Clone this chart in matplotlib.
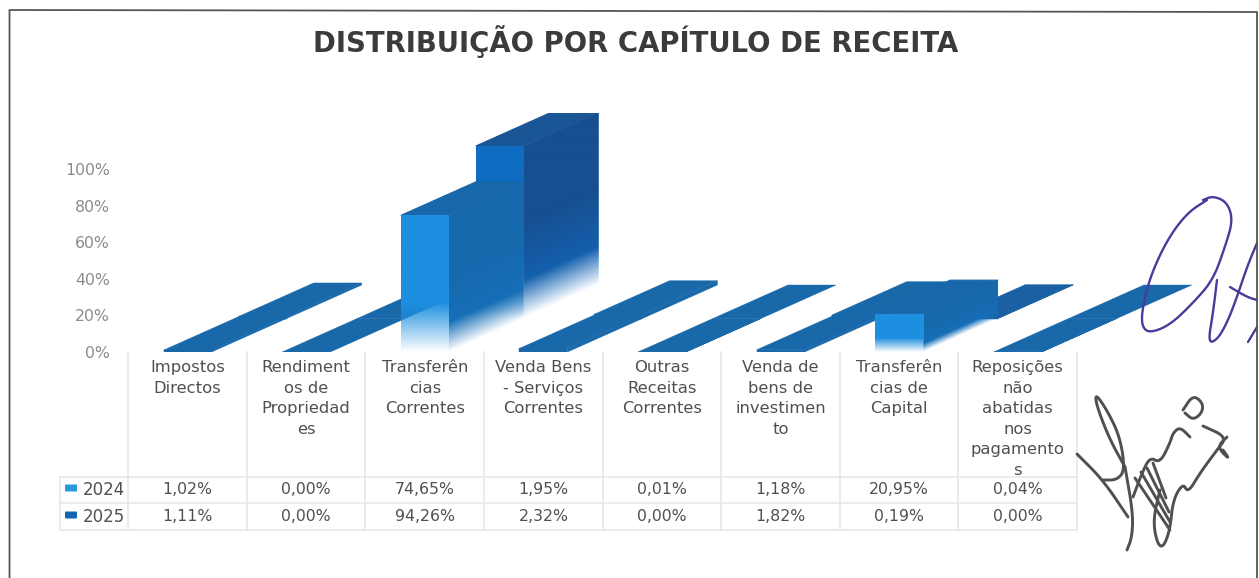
import numpy as np
import matplotlib
matplotlib.use('Agg')
import matplotlib.pyplot as plt
from matplotlib.colors import to_rgb
from matplotlib.patches import Polygon, FancyBboxPatch

plt.rcParams['font.family'] = ['DejaVu Sans']

title = 'DISTRIBUIÇÃO POR CAPÍTULO DE RECEITA'
categories = [
    'Impostos\nDirectos',
    'Rendiment\nos de\nPropriedad\nes',
    'Transferên\ncias\nCorrentes',
    'Venda Bens\n- Serviços\nCorrentes',
    'Outras\nReceitas\nCorrentes',
    'Venda de\nbens de\ninvestimen\nto',
    'Transferên\ncias de\nCapital',
    'Reposições\nnão\nabatidas\nnos\npagamento\ns',
]
series_names = ['2024', '2025']
values_2024 = [1.02, 0.00, 74.65, 1.95, 0.01, 1.18, 20.95, 0.04]
values_2025 = [1.11, 0.00, 94.26, 2.32, 0.00, 1.82, 0.19, 0.00]
yticks = [0, 20, 40, 60, 80, 100]

# scan of two hand signatures, in pixels of the page
sig_blue = [
    [(1207, 200), (1187, 213), (1167, 240), (1150, 277), (1142, 310), (1142, 327), (1150, 333), (1170, 325),
     (1193, 303), (1213, 280), (1225, 247), (1233, 220), (1227, 202), (1213, 196), (1203, 200)],
    [(1217, 280), (1213, 313), (1208, 343), (1217, 340), (1227, 323), (1237, 297), (1247, 267), (1257, 243)],
    [(1230, 287), (1247, 297), (1257, 300)],
    [(1248, 342), (1257, 327)],
]
sig_grey = [
    [(1077, 454), (1103, 480), (1128, 517)],
    [(1103, 480), (1117, 480), (1125, 470), (1120, 437), (1107, 410), (1095, 393), (1097, 407), (1110, 440), (1125, 467)],
    [(1125, 467), (1133, 513), (1132, 537), (1127, 550)],
    [(1133, 497), (1142, 473), (1150, 457), (1160, 463), (1170, 443), (1173, 433), (1180, 427), (1190, 437)],
    [(1183, 410), (1193, 395), (1203, 403), (1202, 413), (1193, 420), (1185, 413)],
    [(1135, 478), (1170, 530)],
    [(1141, 472), (1170, 522)],
    [(1147, 468), (1169, 512)],
    [(1153, 463), (1166, 498)],
    [(1160, 490), (1153, 520), (1157, 543), (1163, 548), (1170, 530), (1173, 500), (1183, 483), (1188, 493),
     (1200, 473), (1217, 450), (1227, 437), (1203, 426)],
    [(1227, 437), (1217, 447), (1230, 460), (1223, 450)],
]

W, H = 1259, 578
fig = plt.figure(figsize=(W / 100, H / 100), dpi=100, facecolor='white')

# chart axes: x is the category number, y the percentage
spacing = 118.6
first_center = 187.6
base_px = 352
top_px = 113
px_per_pct = 1.83
left_px = first_center - spacing / 2
ax = fig.add_axes([left_px / W, 1 - base_px / H, (W - left_px) / W, (base_px - top_px) / H])
ax.patch.set_alpha(0)

bar_w = 48 / spacing
depth_x = 75 / spacing
depth_y = 33.5 / px_per_pct

front_colors = ['#1d8fe0', '#0f6cc2']
side_colors = ['#1769ad', '#174f90']
side_low = ['#1672bd', '#1269bd']
top_colors = ['#1767aa', '#1a5596']
floor_color = '#1968aa'
floor_dark = '#1a60a2'


def solid(points, color, z, lw=0.3):
    ax.add_patch(Polygon(points, closed=True, facecolor=color, edgecolor=color, linewidth=lw, zorder=z))


def fade(points, color_top, color_low, slope, y_start, value, fade_to, z):
    # face that melts into the white floor; height is taken over its skewed lower edge
    pts = np.array(points)
    x_min, x_max = pts[:, 0].min(), pts[:, 0].max()
    y_min, y_max = pts[:, 1].min(), pts[:, 1].max()
    xx, yy = np.meshgrid(np.linspace(x_min, x_max, 150), np.linspace(y_min, y_max, 400))
    height = (yy - (y_start + slope * (xx - x_min))) / value
    alpha = np.clip(height / fade_to, 0, 1)
    mix = np.clip(height / (fade_to * 2.6), 0, 1)[..., None]
    rgb = np.array(to_rgb(color_low)) * (1 - mix) + np.array(to_rgb(color_top)) * mix
    im = ax.imshow(np.dstack([rgb, alpha]), extent=(x_min, x_max, y_min, y_max), origin='lower',
                   aspect='auto', interpolation='bilinear', zorder=z)
    im.set_clip_path(Polygon(points, closed=True, transform=ax.transData))


z = 2
all_values = [values_2024, values_2025]
for i in range(len(categories)):
    other_tall = max(values_2024[i], values_2025[i]) > 5
    for s in (1, 0):
        v = all_values[s][i]
        x0 = i - bar_w / 2 + s * depth_x
        y0 = s * depth_y
        front = [(x0, y0), (x0 + bar_w, y0), (x0 + bar_w, y0 + v), (x0, y0 + v)]
        side = [(x0 + bar_w, y0), (x0 + bar_w + depth_x, y0 + depth_y),
                (x0 + bar_w + depth_x, y0 + depth_y + v), (x0 + bar_w, y0 + v)]
        top = [(x0, y0 + v), (x0 + bar_w, y0 + v), (x0 + bar_w + depth_x, y0 + depth_y + v),
               (x0 + depth_x, y0 + depth_y + v)]
        if v > 5:
            fade(side, side_colors[s], side_low[s], depth_y / depth_x, y0, v, 0.22, z)
            solid(top, top_colors[s], z + 1, lw=0.8)
            fade(front, front_colors[s], front_colors[s], 0, y0, v, 0.36, z + 2)
        else:
            col = floor_dark if other_tall else floor_color
            if v > 0:
                solid(side, col, z)
                solid(front, col, z + 2)
            solid(top, col, z + 1)
        z += 3

ax.set_xlim(-0.5, (W - left_px) / spacing - 0.5)
ax.set_ylim(0, (base_px - top_px) / px_per_pct)
ax.set_yticks(yticks)
ax.set_yticklabels([f'{t}%' for t in yticks], fontsize=11.3, color='#8c8c8c')
ax.tick_params(axis='y', length=0, pad=13)
ax.set_xticks([])
for sp in ax.spines.values():
    sp.set_visible(False)

# everything else in page pixels
fg = fig.add_axes([0, 0, 1, 1], zorder=5)
fg.set_xlim(0, W)
fg.set_ylim(H, 0)
fg.axis('off')

fg.text(635.5, 38, title, ha='center', va='center_baseline', fontsize=19.8, fontweight='bold', color='#3b3b3b')

# data table
grid = '#e8e8e8'
edges = [first_center + spacing * (k - 0.5) for k in range(len(categories) + 1)]
row_top, row_a, row_b, row_end = 352, 477, 503, 530
for e in edges:
    fg.plot([e, e], [row_top, row_end], color=grid, lw=1.2)
for y_line in (row_a, row_b, row_end):
    fg.plot([60, edges[-1]], [y_line, y_line], color=grid, lw=1.2)
fg.plot([60, 60], [row_a, row_end], color=grid, lw=1.2)

text_color = '#505050'
for i, label in enumerate(categories):
    cx = first_center + spacing * i
    for j, part in enumerate(label.split('\n')):
        fg.text(cx, 366 + 20.6 * j, part, ha='center', va='center_baseline', fontsize=11.8, color=text_color)
    for vals, y_row in zip(all_values, (488, 515)):
        fg.text(cx, y_row, f'{vals[i]:.2f}%'.replace('.', ','), ha='center', va='center_baseline',
                fontsize=11.3, color=text_color)

swatches = ['#2a98dc', '#1464b4']
for name, col, y_row in zip(series_names, swatches, (488, 515)):
    fg.add_patch(FancyBboxPatch((66, y_row - 2.5), 10, 5, boxstyle='round,pad=1', facecolor=col, edgecolor='none'))
    fg.text(83, y_row, name, ha='left', va='center_baseline', fontsize=12, color=text_color)


def smooth(points, rounds=3):
    # corner cutting, the signatures are only a rough copy
    p = np.array(points, float)
    for _ in range(rounds):
        q = p[:-1] * 0.75 + p[1:] * 0.25
        r = p[:-1] * 0.25 + p[1:] * 0.75
        mid = np.empty((len(q) * 2, 2))
        mid[0::2] = q
        mid[1::2] = r
        p = np.vstack([p[0], mid, p[-1]])
    return p


for stroke in sig_blue:
    p = smooth(stroke)
    fg.plot(p[:, 0], p[:, 1], color='#4a3a9c', lw=1.7, solid_capstyle='round')
for stroke in sig_grey:
    p = smooth(stroke)
    fg.plot(p[:, 0], p[:, 1], color='#505050', lw=2.1, solid_capstyle='round')

# scan edge
fg.plot([9.5, 9.5, 1257, 1257], [578, 10, 12, 578], color='#555555', lw=1.3)

fig.savefig('out.png', dpi=100)
